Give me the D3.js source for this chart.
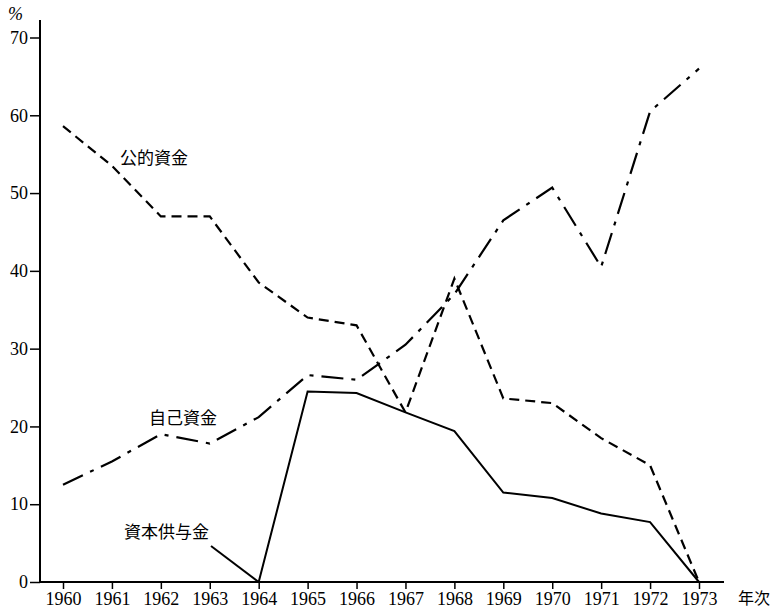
<!DOCTYPE html>
<html>
<head>
<meta charset="utf-8">
<script src="https://cdn.jsdelivr.net/npm/d3@7"></script>
<style>
body{margin:0;background:#fff;}
</style>
</head>
<body>
<svg id="chart" width="778" height="611"></svg>
<script>
// data
const years = [1960,1961,1962,1963,1964,1965,1966,1967,1968,1969,1970,1971,1972,1973];
const kouteki = [58.6,53.5,47,47,38.5,34,33,21.8,39,23.6,23,18.5,15,0];
const jiko = [12.5,15.5,19,17.8,21.2,26.6,26,30.5,37,46.5,50.7,40.5,60.5,66];
const shihonYears = [1964,1965,1966,1967,1968,1969,1970,1971,1972,1973];
const shihon = [0,24.5,24.3,21.8,19.4,11.5,10.8,8.8,7.7,0];
const yTicks = [0,10,20,30,40,50,60,70];

const serif = '"Liberation Serif", "DejaVu Serif", serif';
const jpFont = '"Noto Sans CJK JP", "Noto Sans CJK SC", sans-serif';

const svg = d3.select('#chart');
const x = d3.scaleLinear().domain([1960,1973]).range([63,699]);
const y = d3.scaleLinear().domain([0,70]).range([582,37.5]);

// axes
const yAxis = d3.axisLeft(y).tickValues(yTicks).tickSize(10).tickPadding(2).tickFormat(d3.format('d'));
const gy = svg.append('g').attr('transform','translate(40,0)').call(yAxis);
gy.select('.domain').remove();
gy.selectAll('line').attr('stroke','#000').attr('stroke-width',1.5);
gy.selectAll('text').style('font-family',serif).style('font-size','18px').attr('fill','#000');
svg.append('line').attr('x1',40).attr('x2',40).attr('y1',20).attr('y2',583).attr('stroke','#000').attr('stroke-width',2);

const xAxis = d3.axisBottom(x).tickValues(years).tickSize(7).tickPadding(3).tickFormat(d3.format('d'));
const gx = svg.append('g').attr('transform','translate(0,582)').call(xAxis);
gx.select('.domain').remove();
gx.selectAll('line').attr('stroke','#000').attr('stroke-width',1.5);
gx.selectAll('text').style('font-family',serif).style('font-size','18px').attr('fill','#000');
svg.append('line').attr('x1',40).attr('x2',724).attr('y1',582).attr('y2',582).attr('stroke','#000').attr('stroke-width',2);

svg.append('text').text('%').attr('x',8).attr('y',20)
  .style('font-family',serif).style('font-size','18px').style('font-style','italic');
svg.append('text').text('年次').attr('x',738).attr('y',604).style('font-family',jpFont).style('font-size','16px');

// lines
const line = d3.line().x(d => x(d[0])).y(d => y(d[1]));
svg.append('path').datum(years.map((yr,i) => [yr,kouteki[i]]))
  .attr('d',line).attr('fill','none').attr('stroke','#000').attr('stroke-width',2.2)
  .attr('stroke-dasharray','10,6');
svg.append('path').datum(years.map((yr,i) => [yr,jiko[i]]))
  .attr('d',line).attr('fill','none').attr('stroke','#000').attr('stroke-width',2.2)
  .attr('stroke-dasharray','22,8,4,8');
svg.append('path').datum(shihonYears.map((yr,i) => [yr,shihon[i]]))
  .attr('d',line).attr('fill','none').attr('stroke','#000').attr('stroke-width',2);

// labels
const lab = (t,lx,ly) => svg.append('text').text(t).attr('x',lx).attr('y',ly)
  .style('font-family',jpFont).style('font-size','17px');
lab('公的資金',120,164);
lab('自己資金',149,424);
lab('資本供与金',124,538);
// leader line for 資本供与金
svg.append('line').attr('x1',211).attr('y1',546).attr('x2',x(1964)).attr('y2',y(0))
  .attr('stroke','#000').attr('stroke-width',2);
</script>
</body>
</html>
